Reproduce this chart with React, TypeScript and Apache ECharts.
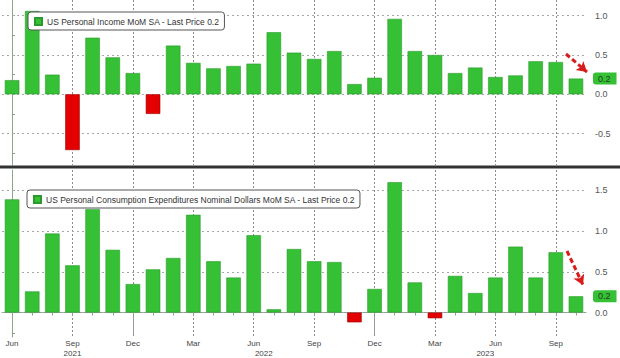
import React, { useEffect, useRef } from "react";
import * as echarts from "echarts";

const months = [
  "Jun 2021", "Jul 2021", "Aug 2021", "Sep 2021", "Oct 2021", "Nov 2021", "Dec 2021",
  "Jan 2022", "Feb 2022", "Mar 2022", "Apr 2022", "May 2022", "Jun 2022", "Jul 2022",
  "Aug 2022", "Sep 2022", "Oct 2022", "Nov 2022", "Dec 2022",
  "Jan 2023", "Feb 2023", "Mar 2023", "Apr 2023", "May 2023", "Jun 2023", "Jul 2023",
  "Aug 2023", "Sep 2023", "Oct 2023",
];

const incomeValues = [
  0.18, 1.06, 0.25, -0.71, 0.72, 0.47, 0.27, -0.25, 0.62, 0.4, 0.33, 0.36, 0.39, 0.79,
  0.53, 0.45, 0.55, 0.13, 0.21, 0.96, 0.55, 0.5, 0.27, 0.34, 0.22, 0.24, 0.42, 0.41, 0.2,
];

const pceValues = [
  1.39, 0.26, 0.97, 0.58, 1.27, 0.77, 0.35, 0.53, 0.67, 1.2, 0.63, 0.43, 0.95, 0.04,
  0.78, 0.63, 0.62, -0.12, 0.29, 1.6, 0.37, -0.07, 0.45, 0.24, 0.43, 0.81, 0.43, 0.74, 0.2,
];

const incomeName = "US Personal Income MoM SA - Last Price 0.2";
const pceName = "US Personal Consumption Expenditures Nominal Dollars MoM SA - Last Price 0.2";

const incomeLast = 0.2;
const pceLast = 0.2;

const incomeTickLabels = [-0.5, 0, 0.5, 1.0];
const incomeMinorTicks = [-0.75, -0.5, -0.25, 0, 0.25, 0.5, 0.75, 1.0];
const pceTickLabels = [0, 0.5, 1.0, 1.5];
const pceMinorTicks = [-0.25, 0, 0.25, 0.5, 0.75, 1.0, 1.25, 1.5];
const quarterIdx = [0, 3, 6, 9, 12, 15, 18, 21, 24, 27];

const years = ["2021", "2022", "2023"];
const yearCenters = [3, 12.5, 23.5];
const yearBreaks = [6, 18];

const GREEN = "#35c035";
const GREEN_EDGE = "#2a9a2a";
const RED = "#e40000";
const RED_EDGE = "#a00000";
const FONT = "'Liberation Sans', Arial, sans-serif";

function barData(values: number[]) {
  return values.map((v) =>
    v < 0
      ? { value: v, itemStyle: { color: RED, borderColor: RED_EDGE } }
      : { value: v }
  );
}

export default function App() {
  const ref = useRef<HTMLDivElement>(null);

  useEffect(() => {
    if (!ref.current) return;
    const chart = echarts.init(ref.current, null, { renderer: "svg" });

    const dotted = { color: "#a8a8a8", type: [2, 3] as any, width: 1 };
    const dottedV = { color: "#8a8a8a", type: [2, 2] as any, width: 1 };
    const arrowStyle = { color: "#d81c1c", type: [5, 3] as any, width: 3 };

    const legendBase = {
      orient: "horizontal",
      selectedMode: false,
      icon: "rect",
      itemWidth: 7,
      itemHeight: 7,
      itemGap: 4,
      backgroundColor: "#fff",
      borderColor: "#555",
      borderWidth: 1,
      borderRadius: 3,
      padding: [5, 5, 4, 6],
      textStyle: { fontSize: 8.5, color: "#333", fontFamily: FONT },
    };

    const yAxisBase = {
      type: "value",
      position: "right",
      offset: 6,
      axisLine: { show: true, lineStyle: { color: "#8fa58f", width: 1 } },
      splitLine: { show: false },
    };

    const priceAxis = (gridIndex: number, min: number, max: number, v: number) => ({
      type: "value",
      gridIndex,
      position: "right",
      offset: 6,
      min,
      max,
      axisLine: { show: false },
      axisTick: { show: false },
      splitLine: { show: false },
      z: 20,
      axisLabel: {
        customValues: [v],
        formatter: (x: number) => x.toFixed(1),
        margin: 1,
        fontSize: 9,
        fontFamily: FONT,
        color: "#1f3f1f",
        backgroundColor: GREEN,
        padding: [2, 6, 1, 5],
        borderRadius: [3, 0, 0, 3],
      },
    });

    const quarterGridAxis = (gridIndex: number) => ({
      type: "value",
      gridIndex,
      position: "top",
      min: -0.5,
      max: months.length - 0.5,
      axisLine: { show: false },
      axisTick: { show: false, customValues: quarterIdx },
      axisLabel: { show: false, customValues: quarterIdx },
      splitLine: { show: true, lineStyle: dottedV },
    });

    chart.setOption({
      animation: false,
      backgroundColor: "#fff",
      grid: [
        { left: 2, right: 34, top: 0, height: 165, outerBoundsMode: "none", containLabel: false },
        { left: 2, right: 34, top: 170, height: 167, outerBoundsMode: "none", containLabel: false },
      ],
      legend: [
        { ...legendBase, data: [incomeName], left: 28, top: 12 },
        { ...legendBase, data: [pceName], left: 27, top: 190 },
      ],
      xAxis: [
        {
          type: "category",
          gridIndex: 0,
          data: months,
          axisLine: { show: false },
          axisTick: { show: false },
          axisLabel: { show: false },
        },
        {
          type: "category",
          gridIndex: 1,
          data: months,
          axisLine: { show: true, lineStyle: { color: "#9a9a9a" } },
          axisTick: { show: true, alignWithLabel: true, interval: 0, length: 3, lineStyle: { color: "#9a9a9a" } },
          axisLabel: {
            interval: 2,
            margin: 2,
            fontSize: 8,
            lineHeight: 9,
            color: "#444",
            fontFamily: FONT,
            formatter: (v: string) => v.split(" ")[0],
          },
        },
        {
          type: "value",
          gridIndex: 1,
          position: "bottom",
          min: -0.5,
          max: months.length - 0.5,
          axisLine: { show: false },
          splitLine: { show: false },
          axisTick: { show: true, customValues: yearBreaks, length: 22, lineStyle: { color: "#9a9a9a" } },
          axisLabel: {
            customValues: yearCenters,
            margin: 12,
            fontSize: 8,
            lineHeight: 9,
            color: "#444",
            fontFamily: FONT,
            formatter: (v: number) => years[yearCenters.indexOf(v)] ?? "",
          },
        },
        quarterGridAxis(0),
        quarterGridAxis(1),
      ],
      yAxis: [
        {
          ...yAxisBase,
          gridIndex: 0,
          min: -0.9,
          max: 1.2,
          axisTick: { show: true, customValues: incomeMinorTicks, length: 3, lineStyle: { color: "#8fa58f" } },
          axisLabel: {
            customValues: incomeTickLabels,
            formatter: (v: number) => v.toFixed(1),
            fontSize: 9,
            color: "#555",
            fontFamily: FONT,
            margin: 3,
          },
        },
        {
          ...yAxisBase,
          gridIndex: 1,
          min: -0.3,
          max: 1.75,
          axisTick: { show: true, customValues: pceMinorTicks, length: 3, lineStyle: { color: "#8fa58f" } },
          axisLabel: {
            customValues: pceTickLabels,
            formatter: (v: number) => v.toFixed(1),
            fontSize: 9,
            color: "#555",
            fontFamily: FONT,
            margin: 3,
          },
        },
        priceAxis(0, -0.9, 1.2, incomeLast),
        priceAxis(1, -0.3, 1.75, pceLast),
      ],
      series: [
        {
          name: incomeName,
          type: "bar",
          xAxisIndex: 0,
          yAxisIndex: 0,
          barWidth: 14.5,
          itemStyle: { color: GREEN, borderColor: GREEN_EDGE, borderWidth: 0.6 },
          data: barData(incomeValues),
          z: 3,
          markLine: {
            silent: true,
            z: 1,
            symbol: "none",
            label: { show: false },
            lineStyle: dotted,
            data: incomeTickLabels.map((v) => ({ yAxis: v })),
          },
        },
        {
          name: pceName,
          type: "bar",
          xAxisIndex: 1,
          yAxisIndex: 1,
          barWidth: 14.5,
          itemStyle: { color: GREEN, borderColor: GREEN_EDGE, borderWidth: 0.6 },
          data: barData(pceValues),
          z: 3,
          markLine: {
            silent: true,
            z: 1,
            symbol: "none",
            label: { show: false },
            lineStyle: dotted,
            data: pceTickLabels.map((v) => ({ yAxis: v })),
          },
        },
        {
          name: "arrow-top",
          type: "line",
          xAxisIndex: 0,
          yAxisIndex: 0,
          data: [],
          markLine: {
            silent: true,
            z: 6,
            symbol: ["none", "arrow"],
            symbolSize: [9, 10],
            label: { show: false },
            lineStyle: arrowStyle,
            data: [[{ x: 566, y: 54 }, { x: 587, y: 72 }]],
          },
        },
        {
          name: "arrow-bottom",
          type: "line",
          xAxisIndex: 1,
          yAxisIndex: 1,
          data: [],
          markLine: {
            silent: true,
            z: 6,
            symbol: ["none", "arrow"],
            symbolSize: [9, 10],
            label: { show: false },
            lineStyle: arrowStyle,
            data: [[{ x: 567, y: 251 }, { x: 583, y: 285 }]],
          },
        },
      ],
      graphic: [
        {
          type: "line",
          z: 100,
          shape: { x1: 0, y1: 167, x2: 620, y2: 167 },
          style: { stroke: "#333", lineWidth: 3 },
        },
      ],
    } as any);

    return () => chart.dispose();
  }, []);

  return (
    <div
      ref={ref}
      style={{ position: "absolute", left: 0, top: 0, width: 620, height: 358 }}
    />
  );
}
